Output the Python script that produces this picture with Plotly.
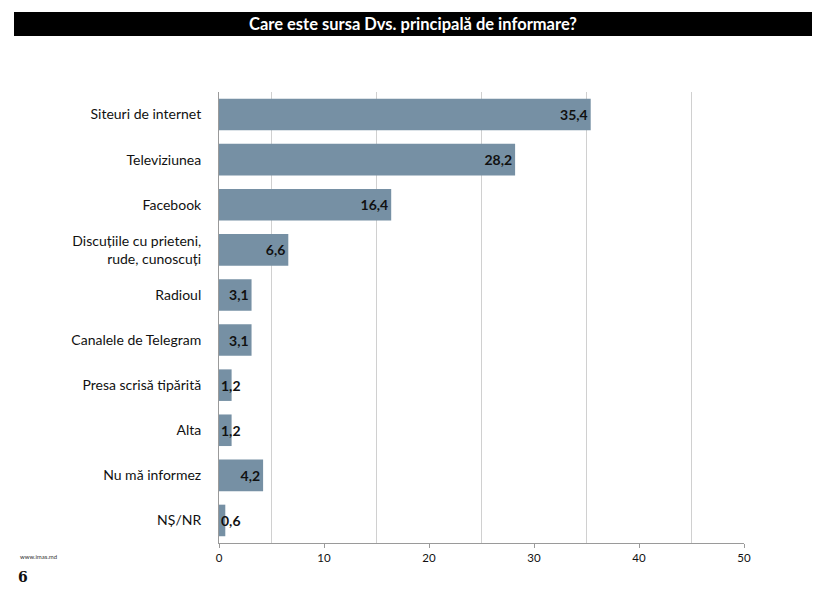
import plotly.graph_objects as go

# Data
categories = ["Siteuri de internet", "Televiziunea", "Facebook",
              "Discuțiile cu prieteni,<br>rude, cunoscuți", "Radioul",
              "Canalele de Telegram", "Presa scrisă tipărită", "Alta",
              "Nu mă informez", "NȘ/NR"]
values = [35.4, 28.2, 16.4, 6.6, 3.1, 3.1, 1.2, 1.2, 4.2, 0.6]
x_ticks = [0, 10, 20, 30, 40, 50]
grid_vals = [5, 15, 25, 35, 45]

bar_color = "#7690A4"
font_fam = "Lato, 'Open Sans', sans-serif"

labels = [f"{v:.1f}".replace(".", ",") for v in values]
# big bars get the label inside the end, tiny bars get an annotation from the axis
inside_text = [t if v >= 3 else "" for v, t in zip(values, labels)]

# page body has an 8px margin, so the figure is laid out 8px smaller
W, H = 814, 583
L, R, T, B = 211, 78, 84, 48
pw, ph = W - L - R, H - T - B

fig = go.Figure(go.Bar(
    x=values, y=categories, orientation="h",
    marker=dict(color=bar_color, line=dict(width=0)),
    text=inside_text, textposition="inside", insidetextanchor="end",
    textfont=dict(family=font_fam, size=14, color="#111111", weight="bold"),
    constraintext="none", cliponaxis=False, hoverinfo="skip",
))

for v, t, c in zip(values, labels, categories):
    if v < 3:
        fig.add_annotation(x=0, y=c, text=f"<b>{t}</b>", showarrow=False,
                           xanchor="left", xshift=0,
                           font=dict(family=font_fam, size=14, color="#111111"))

# title band (screen coords minus the 8px page offset)
fig.add_shape(type="rect", xref="paper", yref="paper",
              x0=(6 - L) / pw, x1=(804 - L) / pw,
              y0=1 + (T - 28) / ph, y1=1 + (T - 4) / ph,
              fillcolor="black", line=dict(width=0), layer="below")
fig.add_annotation(x=(405 - L) / pw, y=1 + (T - 16) / ph, xref="paper", yref="paper",
                   text="<b>Care este sursa Dvs. principală de informare?</b>", showarrow=False,
                   font=dict(family=font_fam, size=16.5, color="white"), yanchor="middle")

# footer
fig.add_annotation(x=(10 - L) / pw, y=-(548 - 535) / ph, xref="paper", yref="paper",
                   text="www.imas.md", showarrow=False, xanchor="left", yanchor="middle",
                   font=dict(family=font_fam, size=6, color="#333333"))
fig.add_annotation(x=(8 - L) / pw, y=-(569 - 535) / ph, xref="paper", yref="paper",
                   text="<b>6</b>", showarrow=False, xanchor="left", yanchor="middle",
                   font=dict(family="'DejaVu Serif', serif", size=14, color="#111111"))

fig.update_layout(
    width=W, height=H,
    margin=dict(l=L, r=R, t=T, b=B),
    paper_bgcolor="white", plot_bgcolor="white",
    bargap=0.3, showlegend=False,
    font=dict(family=font_fam, size=14, color="#111111"),
)
fig.update_xaxes(range=[0, 50], tickvals=x_ticks, showgrid=False,
                 showline=True, linecolor="#9a9a9a", linewidth=1,
                 ticks="outside", ticklen=4, tickcolor="#9a9a9a",
                 tickfont=dict(size=11.5, color="#111111"), zeroline=False,
                 minor=dict(tickvals=grid_vals, showgrid=True, gridcolor="#d0d0d0",
                            gridwidth=1, ticks=""))
fig.update_yaxes(autorange="reversed", showline=True, linecolor="#9a9a9a",
                 linewidth=1, ticks="", ticklabelstandoff=14,
                 tickfont=dict(size=14, color="#111111"))

fig.write_html("out.html")
